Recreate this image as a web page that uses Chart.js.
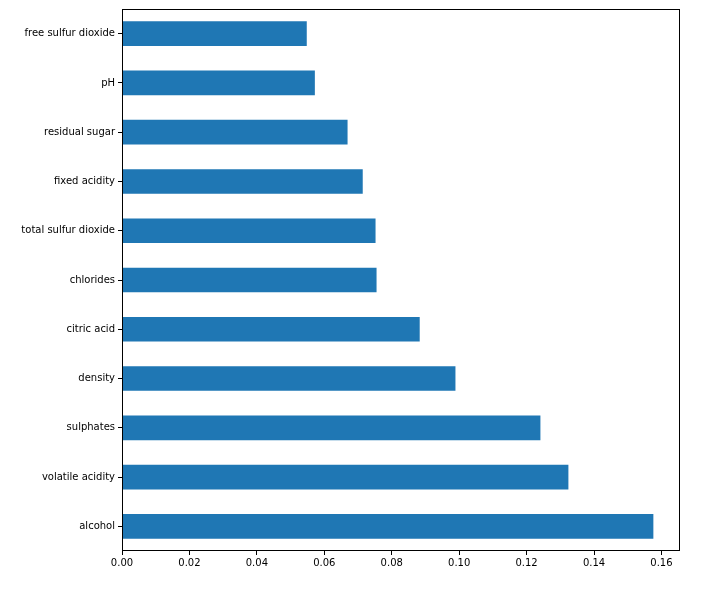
<!DOCTYPE html>
<html>
<head>
<meta charset="utf-8">
<script src="https://cdn.jsdelivr.net/npm/chart.js@4/dist/chart.umd.min.js"></script>
<style>
  html, body { margin: 0; padding: 0; background: #fff; }
  #wrap { width: 702px; height: 590px; }
</style>
</head>
<body>
<div id="wrap"><canvas id="importance"></canvas></div>
<script>
// feature importances, listed top to bottom as in the picture
var features = ['free sulfur dioxide', 'pH', 'residual sugar', 'fixed acidity',
    'total sulfur dioxide', 'chlorides', 'citric acid', 'density',
    'sulphates', 'volatile acidity', 'alcohol']
var importances = [0.0548, 0.0572, 0.0669, 0.0714, 0.0752, 0.0755,
    0.0883, 0.0989, 0.1241, 0.1324, 0.1576]
var xTicks = [0, 0.02, 0.04, 0.06, 0.08, 0.10, 0.12, 0.14, 0.16]
var xMax = 0.1655

var fontSpec = { family: 'DejaVu Sans', size: 10 }

// box around the plot area (matplotlib spines)
var frame = {
    id: 'frame',
    afterDraw: function(chart) {
        var a = chart.chartArea, c = chart.ctx
        c.save()
        c.strokeStyle = '#000'
        c.lineWidth = 1
        c.strokeRect(Math.round(a.left) + 0.5, Math.round(a.top) + 0.5,
            Math.round(a.right - a.left) - 1, Math.round(a.bottom - a.top) - 1)
        c.restore()
    }
}

var ctx = document.getElementById('importance')
var chart = new Chart(ctx, {
    type: 'bar',
    data: {
        labels: features,
        datasets: [{
            data: importances,
            backgroundColor: '#1f77b4',
            borderWidth: 0,
            categoryPercentage: 1.0,
            barPercentage: 0.5
        }]
    },
    plugins: [frame],
    options: {
        indexAxis: 'y',
        responsive: true,
        maintainAspectRatio: false,
        animation: false,
        layout: { padding: { left: 0, top: 8, right: 22, bottom: 0 } },
        plugins: {
            legend: { display: false },
            tooltip: { enabled: false }
        },
        scales: {
            x: {
                min: 0,
                max: xMax,
                afterBuildTicks: function(axis) {
                    axis.ticks = xTicks.map(function(v) { return { value: v } })
                },
                afterFit: function(axis) { axis.height = 39 },
                grid: {
                    drawOnChartArea: false,
                    drawTicks: true,
                    tickLength: 4,
                    color: '#000'
                },
                border: { display: false },
                ticks: {
                    color: '#000',
                    font: fontSpec,
                    padding: 2,
                    maxRotation: 0,
                    autoSkip: false,
                    callback: function(value) { return value.toFixed(2) }
                }
            },
            y: {
                afterFit: function(axis) { axis.width = 122 },
                grid: {
                    drawOnChartArea: false,
                    drawTicks: true,
                    tickLength: 4,
                    color: '#000',
                    offset: false
                },
                border: { display: false },
                ticks: {
                    color: '#000',
                    font: fontSpec,
                    padding: 3
                }
            }
        }
    }
})
</script>
</body>
</html>
